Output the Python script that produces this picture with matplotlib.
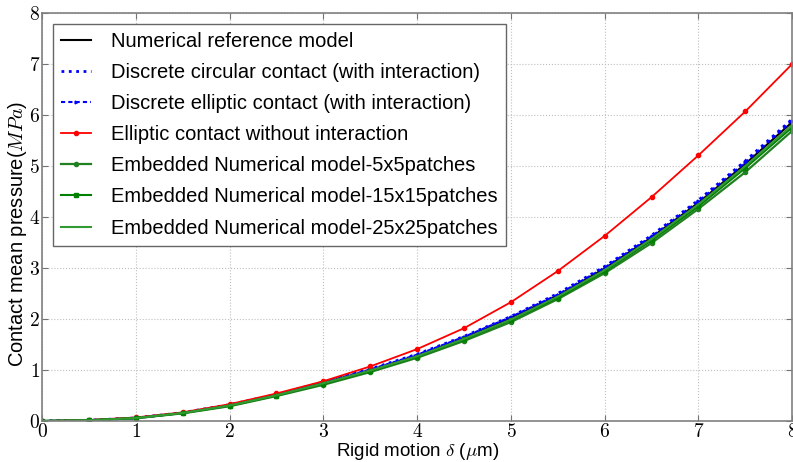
import matplotlib
matplotlib.use("Agg")
import matplotlib.pyplot as plt
from matplotlib.ticker import FuncFormatter, MultipleLocator

plt.rcParams['font.family'] = ['Liberation Sans', 'DejaVu Sans']
plt.rcParams['mathtext.fontset'] = 'cm'

delta = [0, 0.5, 1, 1.5, 2, 2.5, 3, 3.5, 4, 4.5, 5, 5.5, 6, 6.5, 7, 7.5, 8]
ref = [0, 0.015, 0.06, 0.16, 0.31, 0.51, 0.75, 1.0, 1.28, 1.63, 2.02, 2.46, 2.99, 3.6, 4.28, 5.04, 5.86]
circ = [0, 0.015, 0.06, 0.165, 0.32, 0.52, 0.76, 1.02, 1.31, 1.66, 2.05, 2.5, 3.03, 3.64, 4.33, 5.1, 5.92]
ellip = [0, 0.015, 0.06, 0.16, 0.315, 0.515, 0.755, 1.01, 1.3, 1.65, 2.04, 2.48, 3.01, 3.62, 4.31, 5.07, 5.89]
ellip_noint = [0, 0.02, 0.07, 0.17, 0.33, 0.54, 0.78, 1.07, 1.41, 1.82, 2.33, 2.94, 3.63, 4.39, 5.21, 6.07, 7.0]
emb5 = [0, 0.013, 0.055, 0.15, 0.29, 0.49, 0.71, 0.96, 1.24, 1.57, 1.94, 2.39, 2.9, 3.49, 4.16, 4.88, 5.69]
emb15 = [0, 0.014, 0.057, 0.155, 0.3, 0.5, 0.73, 0.98, 1.26, 1.6, 1.98, 2.42, 2.94, 3.54, 4.21, 4.96, 5.76]
emb25 = [0, 0.014, 0.058, 0.157, 0.305, 0.505, 0.74, 0.99, 1.27, 1.61, 1.99, 2.44, 2.96, 3.57, 4.25, 5.0, 5.8]

labels = ["Numerical reference model",
          "Discrete circular contact (with interaction)",
          "Discrete elliptic contact (with interaction)",
          "Elliptic contact without interaction",
          "Embedded Numerical model-5x5patches",
          "Embedded Numerical model-15x15patches",
          "Embedded Numerical model-25x25patches"]

fig = plt.figure(figsize=(7.93, 4.62), dpi=100)
ax = fig.add_axes([0.053, 0.0887, 0.946, 0.8832])

ax.plot(delta, ref, color='black', lw=1.5, label=labels[0])
ax.plot(delta, circ, color='blue', lw=2, ls=':', label=labels[1])
ax.plot(delta, ellip, color='blue', lw=1.5, ls='--', dashes=(2, 1.5), marker='>', ms=2, label=labels[2])
ax.plot(delta, ellip_noint, color='red', lw=1.3, marker='.', ms=6, label=labels[3])
ax.plot(delta, emb5, color=(0.13, 0.5, 0.13), lw=1.6, marker='.', ms=6, label=labels[4])
ax.plot(delta, emb15, color=(0.0, 0.5, 0.0), lw=1.5, marker='s', ms=2.5, label=labels[5])
ax.plot(delta, emb25, color=(0.2, 0.6, 0.2), lw=1.5, label=labels[6])

ax.set_xlim(0, 8)
ax.set_ylim(0, 8)
ax.xaxis.set_major_locator(MultipleLocator(1))
ax.yaxis.set_major_locator(MultipleLocator(1))
fmt = FuncFormatter(lambda v, p: r'$%g$' % v)
ax.xaxis.set_major_formatter(fmt)
ax.yaxis.set_major_formatter(fmt)
ax.tick_params(direction='in', top=True, right=True, labelsize=14, colors='0.45',
               labelcolor='black', length=4)
ax.tick_params(axis='y', pad=1.5)
ax.tick_params(axis='x', pad=1.5)
ax.grid(True, ls=':', color='0.75', lw=0.8)
for s in ax.spines.values():
    s.set_color('0.5')
    s.set_linewidth(1.2)

ax.set_xlabel(r'Rigid motion $\delta$ ($\mu$m)', fontsize=13.5, labelpad=0)
ax.set_ylabel(r'Contact mean pressure($MPa$)', fontsize=14.5)
ax.yaxis.set_label_coords(-0.017, 0.46)

leg = ax.legend(loc='upper left', fontsize=14.5, frameon=True, fancybox=False,
                edgecolor='0.4', framealpha=1, labelspacing=0.6, handlelength=1.5,
                handletextpad=1.0, borderpad=0.4, bbox_to_anchor=(0.0147, 0.973),
                borderaxespad=0)
leg.get_frame().set_linewidth(1.0)

fig.savefig('out.png', dpi=100)
